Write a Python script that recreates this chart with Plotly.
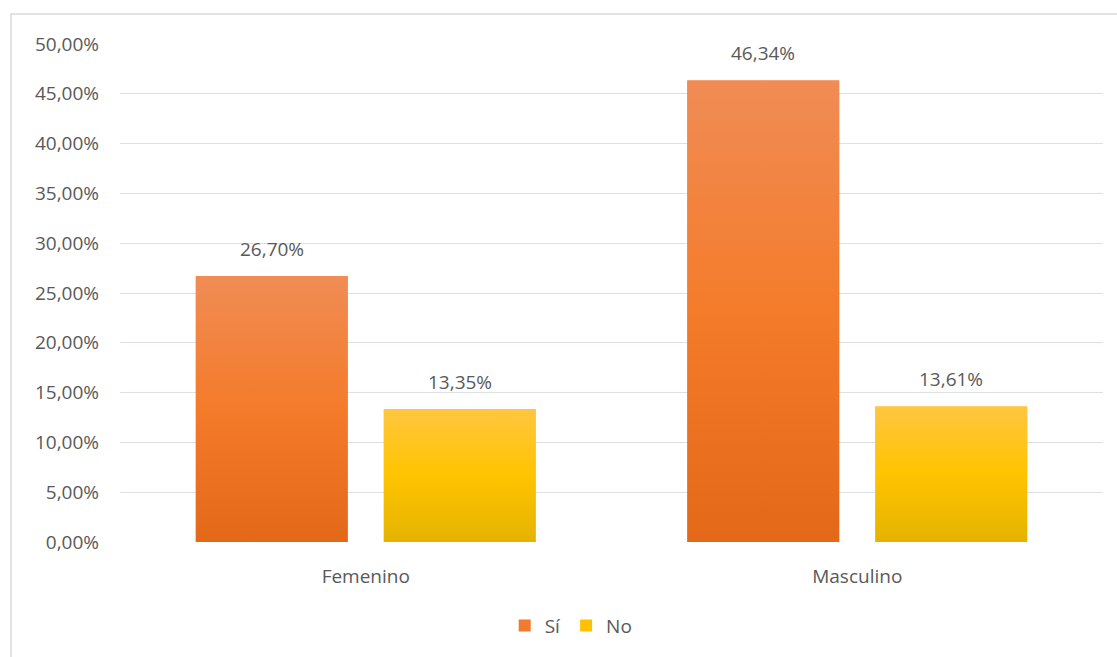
import plotly.graph_objects as go

# Datos: porcentaje de respuestas por sexo
categorias = ["Femenino", "Masculino"]
si = [26.70, 46.34]
no = [13.35, 13.61]
y_ticks = [0, 5, 10, 15, 20, 25, 30, 35, 40, 45, 50]

# Geometría de las barras en unidades del eje x (categorías en 0, 1, ...)
BAR_WIDTH = 0.309
BAR_PITCH = 0.3825

series = [
    # nombre, valores, color de leyenda, degradado (abajo, centro, arriba)
    ("Sí", si, "#F07B2C", ("#E36918", "#F47B2A", "#F08C55")),
    ("No", no, "#FFC000", ("#E4B300", "#FFC400", "#FFC640")),
]

fig = go.Figure()
annotations = []

for k, (name, vals, color, grad) in enumerate(series):
    center_shift = (k - (len(series) - 1) / 2) * BAR_PITCH
    offset = center_shift - BAR_WIDTH / 2
    xs = list(range(len(categorias)))
    fig.add_trace(go.Bar(
        name=name,
        x=xs,
        y=[v / 100 for v in vals],
        width=BAR_WIDTH,
        offset=offset,
        marker=dict(color=color, line=dict(width=0)),
        hoverinfo="skip",
    ))
    # capa con degradado vertical sobre cada barra
    for i, v in enumerate(vals):
        x0 = i + offset
        x1 = x0 + BAR_WIDTH
        fig.add_trace(go.Scatter(
            x=[x0, x1, x1, x0, x0],
            y=[0, 0, v / 100, v / 100, 0],
            mode="lines",
            line=dict(width=0),
            fill="toself",
            fillgradient=dict(
                type="vertical",
                colorscale=[[0, grad[0]], [0.5, grad[1]], [1, grad[2]]],
            ),
            showlegend=False,
            hoverinfo="skip",
        ))
        annotations.append(dict(
            x=i + center_shift,
            y=v / 100,
            xref="x", yref="y",
            text=f"{v:.2f}%".replace(".", ","),
            showarrow=False,
            yanchor="middle",
            yshift=27,
            font=dict(family="Open Sans", size=19, color="#595959"),
        ))

fig.update_layout(
    width=1117,
    height=657,
    margin=dict(l=120, r=14, t=44, b=113),
    paper_bgcolor="white",
    plot_bgcolor="white",
    separators=",.",
    barmode="overlay",
    font=dict(family="Open Sans", size=19, color="#595959"),
    showlegend=True,
    legend=dict(
        orientation="h",
        x=0.459, xanchor="center",
        y=-0.168, yanchor="middle",
        font=dict(size=19, color="#595959"),
        itemwidth=30,
        traceorder="normal",
    ),
    xaxis=dict(
        range=[-0.5, len(categorias) - 0.5],
        tickvals=list(range(len(categorias))),
        ticktext=categorias,
        showgrid=False,
        zeroline=False,
        showline=False,
        ticks="",
        ticklabelstandoff=21,
        fixedrange=True,
    ),
    yaxis=dict(
        range=[0, 0.5],
        tickvals=[t / 100 for t in y_ticks],
        tickformat=".2%",
        showgrid=True,
        gridcolor="#DDE1E6",
        gridwidth=1,
        zeroline=False,
        showline=False,
        ticks="",
        ticklabelstandoff=20,
        fixedrange=True,
    ),
    annotations=annotations,
    shapes=[dict(
        type="rect",
        xref="paper", yref="paper",
        x0=-0.1109, x1=1.2,
        y0=-0.5, y1=1.06,
        line=dict(color="#D9D9D9", width=1.5),
        fillcolor="rgba(0,0,0,0)",
        layer="below",
    )],
)

fig.write_html("out.html")
